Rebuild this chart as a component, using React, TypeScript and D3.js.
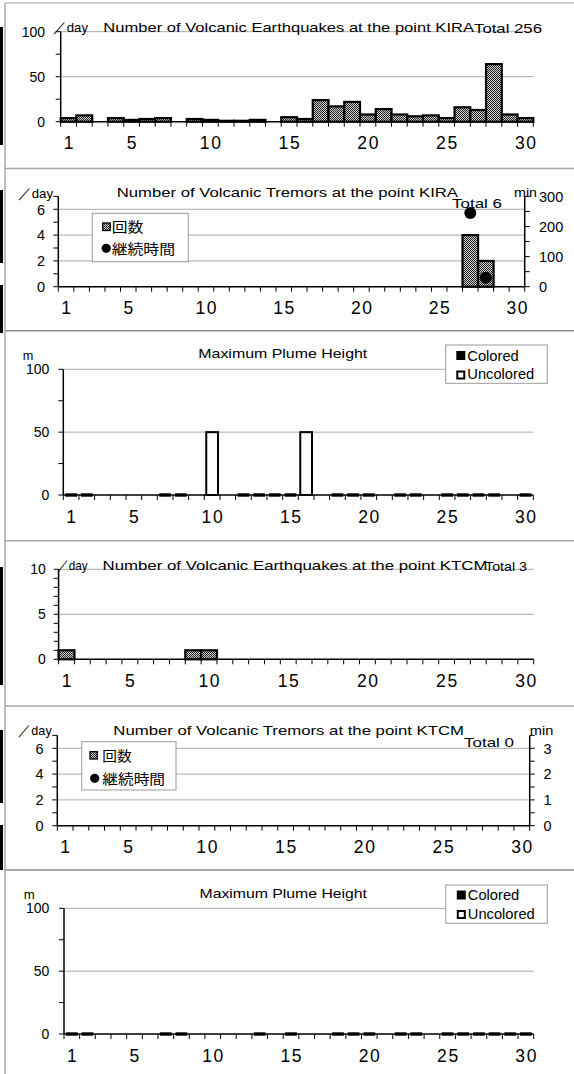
import React from "react";
import * as d3 from "d3";

// ---------------- data ----------------
const days = [1, 2, 3, 4, 5, 6, 7, 8, 9, 10, 11, 12, 13, 14, 15, 16, 17, 18, 19, 20, 21, 22, 23, 24, 25, 26, 27, 28, 29, 30];
const xTickDays = [1, 5, 10, 15, 20, 25, 30];

const kiraQuakes = [4, 7, 0, 4, 2, 3, 4, 0, 3, 2, 1, 1, 2, 0, 5, 3, 24, 17, 22, 8, 14, 8, 6, 7, 4, 16, 13, 64, 8, 4];
const kiraQuakeTotal = 256;

const kiraTremorCount = [0, 0, 0, 0, 0, 0, 0, 0, 0, 0, 0, 0, 0, 0, 0, 0, 0, 0, 0, 0, 0, 0, 0, 0, 0, 0, 4, 2, 0, 0];
const kiraTremorMinutes: (number | null)[] = [null, null, null, null, null, null, null, null, null, null, null, null, null, null, null, null, null, null, null, null, null, null, null, null, null, null, 245, 30, null, null];
const kiraTremorTotal = 6;

const kiraPlumeColored: (number | null)[] = [0, 0, null, null, null, null, 0, 0, null, null, null, 0, 0, 0, 0, null, null, 0, 0, 0, null, 0, 0, null, 0, 0, 0, 0, null, 0];
const kiraPlumeUncolored: (number | null)[] = [null, null, null, null, null, null, null, null, null, 50, null, null, null, null, null, 50, null, null, null, null, null, null, null, null, null, null, null, null, null, null];

const ktcmQuakes = [1, 0, 0, 0, 0, 0, 0, 0, 1, 1, 0, 0, 0, 0, 0, 0, 0, 0, 0, 0, 0, 0, 0, 0, 0, 0, 0, 0, 0, 0];
const ktcmQuakeTotal = 3;

const ktcmTremorCount = [0, 0, 0, 0, 0, 0, 0, 0, 0, 0, 0, 0, 0, 0, 0, 0, 0, 0, 0, 0, 0, 0, 0, 0, 0, 0, 0, 0, 0, 0];
const ktcmTremorMinutes: (number | null)[] = [null, null, null, null, null, null, null, null, null, null, null, null, null, null, null, null, null, null, null, null, null, null, null, null, null, null, null, null, null, null];
const ktcmTremorTotal = 0;

const ktcmPlumeColored: (number | null)[] = [0, 0, null, null, null, null, 0, 0, null, null, null, null, 0, null, 0, null, null, 0, 0, 0, null, 0, 0, null, 0, 0, 0, 0, 0, 0];
const ktcmPlumeUncolored: (number | null)[] = [null, null, null, null, null, null, null, null, null, null, null, null, null, null, null, null, null, null, null, null, null, null, null, null, null, null, null, null, null, null];

const quakeTitleKira = "Number of Volcanic Earthquakes at the point KIRA";
const quakeTitleKtcm = "Number of Volcanic Earthquakes at the point KTCM";
const tremorTitleKira = "Number of Volcanic Tremors at the point KIRA";
const tremorTitleKtcm = "Number of Volcanic Tremors at the point KTCM";
const plumeTitle = "Maximum Plume Height";
const tremorLegend = ["回数", "継続時間"];
const plumeLegend = ["Colored", "Uncolored"];

// ---------------- style ----------------
const FONT = "'Liberation Sans', Arial, sans-serif";
const CJK = "'Noto Sans CJK JP', 'Liberation Sans', sans-serif";
const GRID = "#a8a8a8";
const TITLE = 13.5;

type TP = { x: number; y: number; len?: number; size?: number; anchor?: string; font?: string; children: any; ls?: number };
const T = (p: TP) => (
  <text
    x={p.x}
    y={p.y}
    fontSize={p.size ?? TITLE}
    fontFamily={p.font ?? FONT}
    textAnchor={p.anchor ?? "start"}
    textLength={p.len}
    lengthAdjust={p.len ? "spacingAndGlyphs" : undefined}
    letterSpacing={p.ls}
    fill="#000"
  >
    {p.children}
  </text>
);

type Layout = { x0: number; x1: number; y0: number; yTop: number; labelRight: number; labelSize: number };
type RightAxis = { max: number; majors: number[]; minors: number[]; labelLeft: number };

function Axes({ L, yMax, majors, minors, right }: { L: Layout; yMax: number; majors: number[]; minors: number[]; right?: RightAxis }) {
  const y = d3.scaleLinear().domain([0, yMax]).range([L.y0, L.yTop]);
  const x = d3.scaleBand<number>().domain(days).range([L.x0, L.x1]).padding(0);
  const bw = x.bandwidth();
  const yR = right ? d3.scaleLinear().domain([0, right.max]).range([L.y0, L.yTop]) : null;
  return (
    <g>
      <line x1={L.x0} x2={L.x0} y1={L.y0} y2={L.yTop} stroke="#000" strokeWidth={1.5} />
      {[...majors, ...minors].map((v, i) => (
        <line key={"t" + i} x1={L.x0 - 5} x2={L.x0} y1={y(v)} y2={y(v)} stroke="#000" strokeWidth={1} />
      ))}
      {majors.map((v) => (
        <T key={"l" + v} x={L.labelRight} y={y(v)} size={L.labelSize} anchor="end">
          <tspan dy="0.36em">{v}</tspan>
        </T>
      ))}
      <line x1={L.x0} x2={L.x1} y1={L.y0} y2={L.y0} stroke="#000" strokeWidth={1.5} />
      {d3.range(days.length + 1).map((i) => (
        <line key={"xt" + i} x1={L.x0 + i * bw} x2={L.x0 + i * bw} y1={L.y0} y2={L.y0 + 5} stroke="#000" strokeWidth={1} />
      ))}
      {xTickDays.map((d) => (
        <T key={"xl" + d} x={(x(d) as number) + bw / 2 + 0.8} y={L.y0 + 27.5} size={17.5} anchor="middle" ls={1.6}>
          {d}
        </T>
      ))}
      {right && yR && (
        <g>
          <line x1={L.x1} x2={L.x1} y1={L.y0} y2={L.yTop} stroke="#000" strokeWidth={1.5} />
          {[...right.majors, ...right.minors].map((v, i) => (
            <line key={"rt" + i} x1={L.x1} x2={L.x1 + 5} y1={yR(v)} y2={yR(v)} stroke="#000" strokeWidth={1} />
          ))}
          {right.majors.map((v) => (
            <T key={"rl" + v} x={right.labelLeft} y={yR(v)} size={L.labelSize}>
              <tspan dy="0.36em">{v}</tspan>
            </T>
          ))}
        </g>
      )}
    </g>
  );
}

function Grid({ L, yMax, grid }: { L: Layout; yMax: number; grid: number[] }) {
  const y = d3.scaleLinear().domain([0, yMax]).range([L.y0, L.yTop]);
  return (
    <g>
      {grid.map((g) => (
        <line key={g} x1={L.x0} x2={L.x1} y1={y(g)} y2={y(g)} stroke={GRID} strokeWidth={1} />
      ))}
    </g>
  );
}

function CountBars({ L, yMax, values }: { L: Layout; yMax: number; values: number[] }) {
  const y = d3.scaleLinear().domain([0, yMax]).range([L.y0, L.yTop]);
  const x = d3.scaleBand<number>().domain(days).range([L.x0, L.x1]).padding(0);
  return (
    <g>
      {days.map((d, i) =>
        values[i] > 0 ? (
          <rect key={d} x={x(d)} y={y(values[i])} width={x.bandwidth()} height={L.y0 - y(values[i])} fill="url(#chk)" stroke="#000" strokeWidth={2.2} />
        ) : null
      )}
    </g>
  );
}

function Dots({ L, max, values }: { L: Layout; max: number; values: (number | null)[] }) {
  const y = d3.scaleLinear().domain([0, max]).range([L.y0, L.yTop]);
  const x = d3.scaleBand<number>().domain(days).range([L.x0, L.x1]).padding(0);
  return (
    <g>
      {days.map((d, i) =>
        values[i] != null ? <circle key={d} cx={(x(d) as number) + x.bandwidth() / 2} cy={y(values[i] as number)} r={6} fill="#000" /> : null
      )}
    </g>
  );
}

function PlumeBars({ L, yMax, colored, uncolored }: { L: Layout; yMax: number; colored: (number | null)[]; uncolored: (number | null)[] }) {
  const y = d3.scaleLinear().domain([0, yMax]).range([L.y0, L.yTop]);
  const x = d3.scaleBand<number>().domain(days).range([L.x0, L.x1]).paddingInner(0.25).paddingOuter(0.125);
  const bw = x.bandwidth();
  const bar = (d: number, v: number, fill: string, key: string) =>
    v > 0 ? (
      <rect key={key} x={x(d)} y={y(v)} width={bw} height={L.y0 - y(v)} fill={fill} stroke="#000" strokeWidth={2} />
    ) : (
      <rect key={key} x={x(d)} y={L.y0 - 1.7} width={bw} height={3.4} fill="#000" />
    );
  return (
    <g>
      {days.map((d, i) => (colored[i] != null ? bar(d, colored[i] as number, "#000", "c" + d) : null))}
      {days.map((d, i) => (uncolored[i] != null ? bar(d, uncolored[i] as number, "#fff", "u" + d) : null))}
    </g>
  );
}

function TremorLegendBox(p: { x: number; y: number; w: number; h: number; sqX: number; sqY: number; sq: number; tx: number; b1: number; l1: number; cx: number; cy: number; b2: number; l2: number }) {
  return (
    <g>
      <rect x={p.x} y={p.y} width={p.w} height={p.h} fill="#fff" stroke="#999" strokeWidth={1} />
      <rect x={p.sqX} y={p.sqY} width={p.sq} height={p.sq} fill="url(#chk)" stroke="#000" strokeWidth={1.3} />
      <T x={p.tx} y={p.b1} size={13.5} font={CJK} len={p.l1}>{tremorLegend[0]}</T>
      <circle cx={p.cx} cy={p.cy} r={4.6} fill="#000" />
      <T x={p.tx} y={p.b2} size={13.5} font={CJK} len={p.l2}>{tremorLegend[1]}</T>
    </g>
  );
}

function PlumeLegendBox(p: { x: number; y: number; sqX: number; sq1: number; sq2: number; tx: number; b1: number; b2: number }) {
  return (
    <g>
      <rect x={p.x} y={p.y} width={101.5} height={38.3} fill="#fff" stroke="#999" strokeWidth={1} />
      <rect x={p.sqX} y={p.sq1} width={9} height={9} fill="#000" />
      <T x={p.tx} y={p.b1} size={14} len={51.5}>{plumeLegend[0]}</T>
      <rect x={p.sqX + 1} y={p.sq2 + 1} width={7} height={7} fill="#fff" stroke="#000" strokeWidth={2} />
      <T x={p.tx} y={p.b2} size={14} len={67}>{plumeLegend[1]}</T>
    </g>
  );
}

// ---------------- layouts ----------------
const L1: Layout = { x0: 60.7, x1: 533.3, y0: 121.7, yTop: 31.7, labelRight: 45, labelSize: 14 };
const L2: Layout = { x0: 58.3, x1: 524.7, y0: 286.7, yTop: 196.4, labelRight: 45, labelSize: 14.5 };
const L3: Layout = { x0: 63.3, x1: 533.3, y0: 495, yTop: 369.3, labelRight: 49.3, labelSize: 14 };
const L4: Layout = { x0: 58.6, x1: 533.7, y0: 659.3, yTop: 569.3, labelRight: 45.8, labelSize: 14 };
const L5: Layout = { x0: 57.3, x1: 529.7, y0: 825.7, yTop: 735.4, labelRight: 43.5, labelSize: 14.5 };
const L6: Layout = { x0: 64, x1: 533.7, y0: 1034, yTop: 908.3, labelRight: 49.3, labelSize: 14 };

const frameLines = [
  { y: 3, c: "#d0d0d0", w: 2 },
  { y: 168.5, c: "#a8a8a8", w: 1.5 },
  { y: 330.8, c: "#8c8c8c", w: 1.5 },
  { y: 540.7, c: "#a8a8a8", w: 1.5 },
  { y: 706, c: "#a8a8a8", w: 1.5 },
  { y: 870, c: "#8c8c8c", w: 1.5 },
];
const sideBars = [
  [27, 145],
  [190, 263],
  [285, 333],
  [567, 685],
  [730, 803],
  [825, 870],
];

export default function App() {
  return (
    <svg width={574} height={1074} style={{ position: "absolute", left: 0, top: 0, background: "#fff" }}>
      <defs>
        <pattern id="chk" width={2} height={2} patternUnits="userSpaceOnUse">
          <rect width={2} height={2} fill="#d0d0d0" />
          <rect width={1} height={1} fill="#222" />
          <rect x={1} y={1} width={1} height={1} fill="#222" />
        </pattern>
      </defs>
      <rect width={574} height={1074} fill="#fff" />

      {frameLines.map((f, i) => (
        <line key={"f" + i} x1={5} x2={574} y1={f.y} y2={f.y} stroke={f.c} strokeWidth={f.w} />
      ))}
      <line x1={5} x2={5} y1={3} y2={1074} stroke="#a8a8a8" strokeWidth={1.5} />
      {sideBars.map((s, i) => (
        <rect key={"s" + i} x={0} y={s[0]} width={3} height={s[1] - s[0]} fill="#000" />
      ))}

      {/* Panel 1: KIRA earthquakes */}
      <Grid L={L1} yMax={100} grid={[50, 100]} />
      <CountBars L={L1} yMax={100} values={kiraQuakes} />
      <Axes L={L1} yMax={100} majors={[0, 50, 100]} minors={[25, 75]} />
      <T x={53} y={31.5} len={35}>／day</T>
      <T x={103.3} y={31.5} len={370.7}>{quakeTitleKira}</T>
      <T x={474} y={32.5} len={68}>{"Total " + kiraQuakeTotal}</T>

      {/* Panel 2: KIRA tremors */}
      <Grid L={L2} yMax={7} grid={[2, 4, 6]} />
      <CountBars L={L2} yMax={7} values={kiraTremorCount} />
      <Axes L={L2} yMax={7} majors={[0, 2, 4, 6]} minors={[1, 3, 5, 7]} right={{ max: 300, majors: [0, 100, 200, 300], minors: [50, 150, 250], labelLeft: 539 }} />
      <Dots L={L2} max={300} values={kiraTremorMinutes} />
      <T x={18} y={197.5} len={35}>／day</T>
      <T x={116.7} y={197.3} len={341.3}>{tremorTitleKira}</T>
      <T x={452} y={208} len={50}>{"Total " + kiraTremorTotal}</T>
      <T x={514} y={197} len={23}>min</T>
      <TremorLegendBox x={92.3} y={213.3} w={96} h={48.4} sqX={102.7} sqY={223} sq={7.5} tx={111.7} b1={231.5} l1={31.6} cx={106.2} cy={248.3} b2={254} l2={63.3} />

      {/* Panel 3: KIRA plume */}
      <Grid L={L3} yMax={100} grid={[50, 100]} />
      <PlumeBars L={L3} yMax={100} colored={kiraPlumeColored} uncolored={kiraPlumeUncolored} />
      <Axes L={L3} yMax={100} majors={[0, 50, 100]} minors={[25, 75]} />
      <T x={22.7} y={359.5} size={13} len={10.6}>m</T>
      <T x={198.3} y={358.3} len={169}>{plumeTitle}</T>
      <PlumeLegendBox x={445.7} y={345} sqX={456.3} sq1={351} sq2={370.5} tx={467.3} b1={360.5} b2={379.3} />

      {/* Panel 4: KTCM earthquakes */}
      <Grid L={L4} yMax={10} grid={[5, 10]} />
      <CountBars L={L4} yMax={10} values={ktcmQuakes} />
      <Axes L={L4} yMax={10} majors={[0, 5, 10]} minors={[1, 2, 3, 4, 6, 7, 8, 9]} />
      <T x={56.7} y={570} len={31}>／day</T>
      <T x={102.5} y={570} len={385}>{quakeTitleKtcm}</T>
      <T x={485} y={571} len={42}>{"Total " + ktcmQuakeTotal}</T>

      {/* Panel 5: KTCM tremors */}
      <Grid L={L5} yMax={7} grid={[2, 4, 6]} />
      <CountBars L={L5} yMax={7} values={ktcmTremorCount} />
      <Axes L={L5} yMax={7} majors={[0, 2, 4, 6]} minors={[1, 3, 5, 7]} right={{ max: 3.5, majors: [0, 1, 2, 3], minors: [0.5, 1.5, 2.5, 3.5], labelLeft: 543.5 }} />
      <Dots L={L5} max={3.5} values={ktcmTremorMinutes} />
      <T x={18.3} y={735} len={33.4}>／day</T>
      <T x={113.3} y={735} len={350.7}>{tremorTitleKtcm}</T>
      <T x={464} y={746.7} len={50}>{"Total " + ktcmTremorTotal}</T>
      <T x={529.7} y={735} len={23.6}>min</T>
      <TremorLegendBox x={81.7} y={741.7} w={94.3} h={48.3} sqX={90} sqY={751.7} sq={7.3} tx={102.3} b1={760.5} l1={29.4} cx={94.7} cy={778.3} b2={783.5} l2={62.7} />

      {/* Panel 6: KTCM plume */}
      <Grid L={L6} yMax={100} grid={[50, 100]} />
      <PlumeBars L={L6} yMax={100} colored={ktcmPlumeColored} uncolored={ktcmPlumeUncolored} />
      <Axes L={L6} yMax={100} majors={[0, 50, 100]} minors={[25, 75]} />
      <T x={23.8} y={899} size={13} len={11}>m</T>
      <T x={199.5} y={898.3} len={167.5}>{plumeTitle}</T>
      <PlumeLegendBox x={445.8} y={885} sqX={456.8} sq1={890.5} sq2={910} tx={467.8} b1={900} b2={919.3} />
    </svg>
  );
}
